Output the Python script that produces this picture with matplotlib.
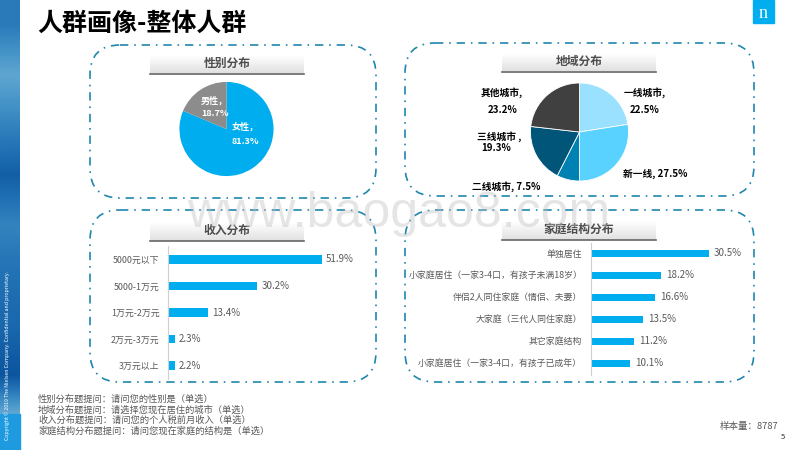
import numpy as np
from matplotlib import pyplot as plt
from matplotlib.patches import FancyBboxPatch, Rectangle

plt.rcParams['font.family'] = ['Noto Sans CJK SC', 'DejaVu Sans']

W = 800
H = 450

gender_names = ['女性', '男性']
gender_values = [81.3, 18.7]
gender_colors = ['#00AEEF', '#8C8C8C']

city_names = ['一线城市', '新一线', '二线城市', '三线城市', '其他城市']
city_values = [22.5, 27.5, 7.5, 19.3, 23.2]
city_colors = ['#99E1FF', '#5AD2FF', '#0081B4', '#005578', '#404040']

income_names = ['5000元以下', '5000-1万元', '1万元-2万元', '2万元-3万元', '3万元以上']
income_values = [51.9, 30.2, 13.4, 2.3, 2.2]

family_names = ['单独居住', '小家庭居住（一家3-4口，有孩子未满18岁）', '伴侣2人同住家庭（情侣、夫妻）',
                '大家庭（三代人同住家庭）', '其它家庭结构', '小家庭居住（一家3-4口，有孩子已成年）']
family_values = [30.5, 18.2, 16.6, 13.5, 11.2, 10.1]

notes = ['性别分布题提问：请问您的性别是（单选）',
         '地域分布题提问：请选择您现在居住的城市（单选）',
         '收入分布题提问：请问您的个人税前月收入（单选）',
         '家庭结构分布题提问：请问您现在家庭的结构是（单选）']

BAR = '#00AEEF'
GREY = '#595959'


def px_axes(fig, x0, y0, x1, y1):
    # y is counted from the top, as on the picture
    ax = fig.add_axes([x0 / W, 1 - y1 / H, (x1 - x0) / W, (y1 - y0) / H])
    ax.patch.set_alpha(0)
    return ax


def panel(bg, x0, y0, x1, y1):
    box = FancyBboxPatch((x0, y0), x1 - x0, y1 - y0, boxstyle='round,pad=0,rounding_size=30',
                         fill=False, edgecolor='#1F86AE', linewidth=1.2,
                         linestyle=(0, (5, 3.5, 1, 3.5)))
    bg.add_patch(box)


def header(bg, x0, y0, x1, y1, text):
    shade = np.linspace(1.0, 0.88, 20).reshape(-1, 1)
    bg.imshow(shade, extent=(x0, x1, y1, y0), cmap='gray', vmin=0, vmax=1, aspect='auto', zorder=1)
    bg.plot([x0, x1], [y1, y1], color='#666666', linewidth=1.2, zorder=2)
    bg.text((x0 + x1) / 2, y1 - 10.5, text, ha='center', va='center',
            fontsize=8.5, fontweight='bold', color='#4D4D4D', zorder=3)


def bars(ax, names, values, xmax, gap):
    ypos = np.arange(len(names))
    ax.barh(ypos, values, height=0.33, color=BAR)
    ax.set_xlim(0, xmax)
    ax.set_ylim(len(names) - 0.5, -0.5)
    ax.set_yticks(ypos, names, fontsize=6.4, color=GREY)
    ax.set_xticks([])
    ax.tick_params(axis='y', length=0, pad=6)
    for side in ['top', 'right', 'bottom']:
        ax.spines[side].set_visible(False)
    ax.spines['left'].set_color('#D0D0D0')
    for y, v in zip(ypos, values):
        ax.text(v + gap, y, f'{v}%', va='center', fontsize=7, color=GREY)


def main():
    fig = plt.figure(figsize=(W / 100, H / 100), dpi=100, facecolor='white')
    bg = px_axes(fig, 0, 0, W, H)
    bg.axis('off')

    # left band
    band = np.array([[0.30], [0.55], [0.35], [0.15], [0.35], [0.25], [0.20], [0.10], [0.70]])
    bg.imshow(band, extent=(0, 20, H, 0), cmap='Blues_r', vmin=-0.1, vmax=1.3, aspect='auto',
              interpolation='bilinear')
    bg.add_patch(Rectangle((0, 414), 20, 36, color='#1E9BE0', zorder=2))
    bg.text(7.5, 440, 'Copyright © 2019 The Nielsen Company. Confidential and proprietary.',
            rotation=90, ha='center', va='bottom', fontsize=3.75, color='white', zorder=3)

    bg.text(37, 23.5, '人群画像-整体人群', ha='left', va='center', fontsize=18,
            fontweight='bold', color='black')

    # logo
    bg.add_patch(Rectangle((753, 0), 21, 23, color=BAR))
    bg.text(763.5, 13.5, 'n', ha='center', va='center', fontsize=13, color='white',
            family='Liberation Serif')

    panel(bg, 90, 45, 376, 198)
    panel(bg, 405, 43, 754, 196)
    panel(bg, 90, 210, 376, 382)
    panel(bg, 405, 210, 754, 382)

    header(bg, 150, 56, 304, 73.5, '性别分布')
    header(bg, 502, 54, 656, 71.5, '地域分布')
    header(bg, 150, 222, 304, 241, '收入分布')
    header(bg, 502, 220, 656, 240, '家庭结构分布')

    for i, line in enumerate(notes):
        bg.text(38, 399 + i * 10.8, line, ha='left', va='center', fontsize=6.7, color=GREY)
    bg.text(778, 426.5, '样本量：8787', ha='right', va='center', fontsize=6.8, color=GREY)
    bg.text(783, 437, '5', ha='center', va='center', fontsize=5.5, color='#333333')

    bg.set_xlim(0, W)
    bg.set_ylim(H, 0)

    # gender pie
    ax = px_axes(fig, 226.5 - 48, 129 - 48, 226.5 + 48, 129 + 48)
    ax.pie(gender_values, colors=gender_colors, startangle=90, counterclock=False, radius=1.0,
           wedgeprops={'linewidth': 0})
    ax.set_xlim(-1.02, 1.02)
    ax.set_ylim(-1.02, 1.02)
    white = dict(ha='left', va='center', fontsize=6.5, fontweight='bold', color='white')
    fig.text(201 / W, 1 - 101 / H, f'{gender_names[1]}，', **white)
    fig.text(201 / W, 1 - 113 / H, f'{gender_values[1]}%', **white)
    fig.text(232 / W, 1 - 127 / H, f'{gender_names[0]}，', **white)
    fig.text(232 / W, 1 - 141 / H, f'{gender_values[0]}%', **white)

    # city pie
    ax = px_axes(fig, 579.5 - 50, 132 - 50, 579.5 + 50, 132 + 50)
    ax.pie(city_values, colors=city_colors, startangle=90, counterclock=False, radius=1.0,
           wedgeprops={'linewidth': 0.6, 'edgecolor': 'white'})
    ax.set_xlim(-1.02, 1.02)
    ax.set_ylim(-1.02, 1.02)
    label = dict(ha='center', va='center', fontsize=7, fontweight='bold', color='black')
    bg.text(645, 93, f'{city_names[0]},', **label)
    bg.text(645, 110, f'{city_values[0]}%', **label)
    bg.text(655, 174, f'{city_names[1]}, {city_values[1]}%', **label)
    bg.text(506, 186.5, f'{city_names[2]}, {city_values[2]}%', **label)
    bg.text(499, 136.5, f'{city_names[3]} ,', **label)
    bg.text(496, 148, f'{city_values[3]}%', **label)
    bg.text(502, 93, f'{city_names[4]},', **label)
    bg.text(503, 110, f'{city_values[4]}%', **label)

    # income bars, 2.96 px per percent
    ax = px_axes(fig, 168, 246, 168 + 200, 379)
    bars(ax, income_names, income_values, 200 / 2.96, 4 / 2.96)

    # family bars, 3.885 px per percent
    ax = px_axes(fig, 590.5, 242.5, 590.5 + 155, 374.5)
    bars(ax, family_names, family_values, 155 / 3.885, 5 / 3.885)

    # watermark
    fig.text(399 / W, 1 - 227 / H, 'www.baogao8.com', ha='center', va='baseline', fontsize=36,
             color='#BFBFBF', alpha=0.4, family='Liberation Sans')

    fig.savefig('out.png', dpi=100)


if __name__ == '__main__':
    main()
